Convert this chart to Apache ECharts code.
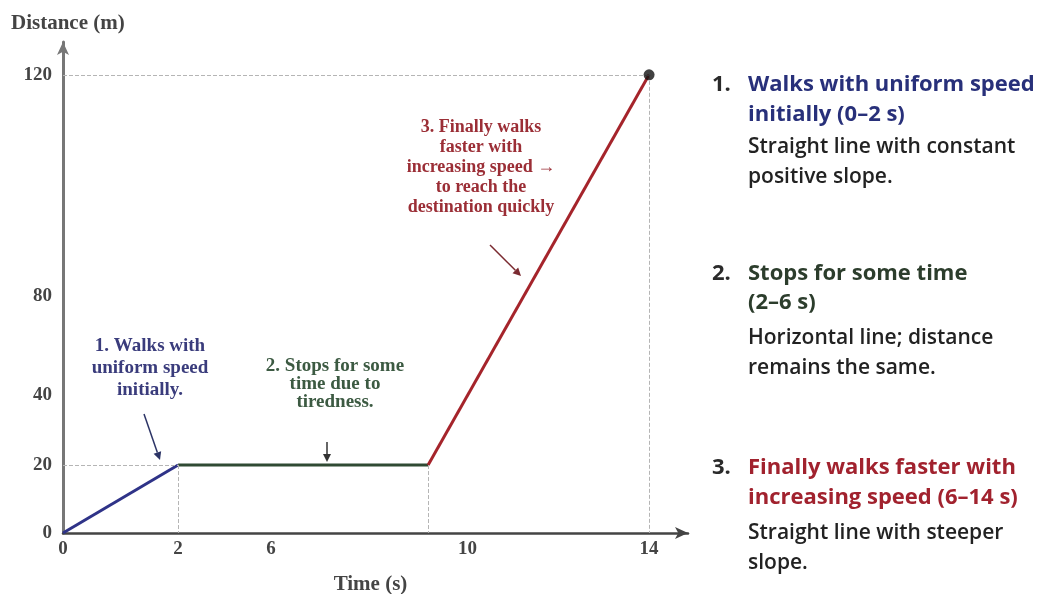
<!DOCTYPE html>
<html>
<head>
<meta charset="utf-8">
<script src="https://cdn.jsdelivr.net/npm/echarts@6/dist/echarts.min.js"></script>
<style>
html,body{margin:0;padding:0;background:#fff;}
#chart{width:1041px;height:594px;}
</style>
</head>
<body>
<div id="chart"></div>
<script>
// ---- data ----
const xTickLabels = ['0', '2', '6', '10', '14'];
const xTickSeconds = [0, 2, 6, 10, 14];
const yTickLabels = ['0', '20', '40', '80', '120'];
const yTickMetres = [0, 20, 40, 80, 120];
const timeS = [0, 2, 9.2, 14];
const distanceM = [0, 20, 20, 120];
const segmentNames = ['Walks with uniform speed', 'Stops for some time', 'Walks faster'];

// ---- drawing (axis is not to scale in the original; these are label placements) ----
const xTickPos = [0, 2.75, 4.97, 9.66, 14];
const yTickPos = [0, 17.8, 36.2, 62.1, 120];
const segColors = ['#2f3388', '#2f4a33', '#a5242b'];

function warp(v, src, dst) {
  for (let i = 0; i < src.length - 1; i++) {
    if (v <= src[i + 1] || i === src.length - 2) {
      const t = (v - src[i]) / (src[i + 1] - src[i]);
      return dst[i] + t * (dst[i + 1] - dst[i]);
    }
  }
  return dst[dst.length - 1];
}
const wx = v => warp(v, xTickSeconds, xTickPos);
const wy = v => warp(v, yTickMetres, yTickPos);
const pts = timeS.map((t, i) => [wx(t), wy(distanceM[i])]);

function labelFor(v, pos, labels) {
  for (let i = 0; i < pos.length; i++) if (Math.abs(pos[i] - v) < 1e-6) return labels[i];
  return '';
}

const serif = "'Liberation Serif', 'DejaVu Serif', serif";
const sans = "'Open Sans', Inter, 'Noto Sans', sans-serif";

const segSeries = [0, 1, 2].map(i => ({
  name: segmentNames[i],
  type: 'line',
  data: [pts[i], pts[i + 1]],
  symbol: 'none',
  lineStyle: { color: segColors[i], width: 3 },
  z: 3
}));

const dash = { type: 'dashed', color: '#b5b5b5', width: 1 };
segSeries[0].markLine = {
  silent: true, symbol: 'none', label: { show: false }, lineStyle: dash,
  data: [
    [{ coord: [0, pts[3][1]] }, { coord: [pts[3][0], pts[3][1]] }],
    [{ coord: [pts[3][0], pts[3][1]] }, { coord: [pts[3][0], 0] }],
    [{ coord: [0, pts[1][1]] }, { coord: [pts[1][0], pts[1][1]] }],
    [{ coord: [pts[1][0], pts[1][1]] }, { coord: [pts[1][0], 0] }],
    [{ coord: [pts[2][0], pts[2][1]] }, { coord: [pts[2][0], 0] }]
  ]
};

function arrow(x1, y1, x2, y2, color) {
  const a = Math.atan2(y2 - y1, x2 - x1), L = 8, W = 4;
  const bx = x2 - L * Math.cos(a), by = y2 - L * Math.sin(a);
  return [
    { type: 'line', shape: { x1, y1, x2: bx, y2: by }, style: { stroke: color, lineWidth: 1.5 }, z: 10 },
    { type: 'polygon', shape: { points: [[x2, y2], [bx + W * Math.sin(a), by - W * Math.cos(a)], [bx - W * Math.sin(a), by + W * Math.cos(a)]] }, style: { fill: color }, z: 10 }
  ];
}

function note(x, y, text, color, size, lh) {
  return { type: 'text', x, y, z: 10, style: { text, fill: color, font: 'bold ' + size + 'px ' + serif, align: 'center', verticalAlign: 'top', lineHeight: lh } };
}

function side(y, num, head, desc, color, hl, dy) {
  return [
    { type: 'text', x: 712, y: y - 15, style: { text: num, fill: '#2a2a2a', font: 'bold 22px ' + sans, lineHeight: 30, verticalAlign: 'top' } },
    { type: 'text', x: 748, y: y - 15, style: { text: head, fill: color, font: 'bold 22px ' + sans, lineHeight: hl, verticalAlign: 'top' } },
    { type: 'text', x: 748, y: y + dy - 15, style: { text: desc, fill: '#222', font: '600 21px ' + sans, lineHeight: 30, verticalAlign: 'top' } }
  ];
}

const graphics = [].concat(
  [{ type: 'text', x: 11, y: 13, style: { text: 'Distance (m)', fill: '#444', font: 'bold 21px ' + serif } }],
  [note(150, 335, '1. Walks with\nuniform speed\ninitially.', '#3a3c7c', 19, 22)],
  arrow(144, 414, 160, 460, '#2c3466'),
  [note(335, 357, '2. Stops for some\ntime due to\ntiredness.', '#3c5a42', 19, 18)],
  arrow(327, 442, 327, 462, '#333'),
  [note(481, 117, '3. Finally walks\nfaster with\nincreasing speed \u2192\nto reach the\ndestination quickly', '#9b2e36', 18, 20)],
  arrow(490, 245, 521, 276, '#7a2a30'),
  side(85, '1.', 'Walks with uniform speed\ninitially (0\u20132 s)', 'Straight line with constant\npositive slope.', '#28307a', 30, 62),
  side(274, '2.', 'Stops for some time\n(2\u20136 s)', 'Horizontal line; distance\nremains the same.', '#2c3d2c', 29, 64),
  side(468, '3.', 'Finally walks faster with\nincreasing speed (6\u201314 s)', 'Straight line with steeper\nslope.', '#a1222e', 30, 65)
);

const chart = echarts.init(document.getElementById('chart'));
chart.setOption({
  animation: false,
  backgroundColor: '#fff',
  grid: { left: 63, right: 353, top: 42, bottom: 61, containLabel: false, outerBoundsMode: 'none' },
  xAxis: {
    type: 'value', min: 0, max: 14.93,
    name: 'Time (s)', nameLocation: 'middle', nameGap: 41,
    nameTextStyle: { fontFamily: serif, fontSize: 21, fontWeight: 'bold', color: '#444', padding: [0, 10, 0, 0] },
    axisLine: { lineStyle: { color: '#444', width: 2.5 }, symbol: ['none', 'arrow'], symbolSize: [9, 13] },
    axisTick: { show: false },
    splitLine: { show: false },
    axisLabel: {
      customValues: xTickPos, margin: 7,
      fontFamily: serif, fontSize: 19, fontWeight: 'bold', color: '#444',
      formatter: v => labelFor(v, xTickPos, xTickLabels)
    }
  },
  yAxis: {
    type: 'value', min: 0, max: 128.6,
    axisLine: { lineStyle: { color: '#777', width: 3 }, symbol: ['none', 'arrow'], symbolSize: [9, 13] },
    axisTick: { show: false },
    splitLine: { show: false },
    axisLabel: {
      customValues: yTickPos, margin: 11,
      fontFamily: serif, fontSize: 19, fontWeight: 'bold', color: '#444',
      formatter: v => labelFor(v, yTickPos, yTickLabels)
    }
  },
  series: segSeries.concat([{
    name: 'Destination', type: 'scatter', data: [pts[3]], symbolSize: 11,
    itemStyle: { color: '#111' }, z: 5
  }]),
  graphic: graphics
});
</script>
</body>
</html>
